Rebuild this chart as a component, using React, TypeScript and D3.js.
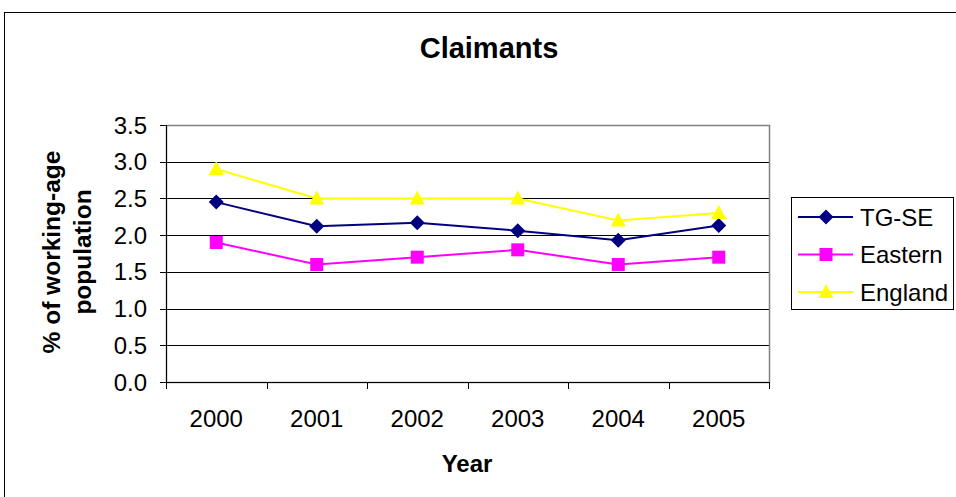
import React from 'react';
import * as d3 from 'd3';

const years = ['2000', '2001', '2002', '2003', '2004', '2005'];
const tgse = [2.45, 2.12, 2.17, 2.06, 1.93, 2.13];
const eastern = [1.9, 1.6, 1.7, 1.8, 1.6, 1.7];
const england = [2.9, 2.5, 2.5, 2.5, 2.2, 2.3];
const yTicks = [0, 0.5, 1, 1.5, 2, 2.5, 3, 3.5];

const series = [
    { name: 'TG-SE', values: tgse, color: '#000080', marker: 'diamond' },
    { name: 'Eastern', values: eastern, color: '#FF00FF', marker: 'square' },
    { name: 'England', values: england, color: '#FFFF00', marker: 'triangle' },
];

const font = 'Arial, "Liberation Sans", sans-serif';

function Marker({ type, x, y, color }: { type: string; x: number; y: number; color: string }) {
    if (type === 'diamond') {
        return <path d={`M${x},${y - 7.5}L${x + 7.5},${y}L${x},${y + 7.5}L${x - 7.5},${y}Z`} fill={color} />;
    }
    if (type === 'square') {
        return <rect x={x - 6.5} y={y - 6.5} width={13} height={13} fill={color} />;
    }
    return <path d={`M${x},${y - 8}L${x + 7.5},${y + 6}L${x - 7.5},${y + 6}Z`} fill={color} />;
}

export default function App() {
    const width = 956;
    const height = 497;
    const plot = { left: 166, right: 769, top: 125, bottom: 382 };

    const x = d3.scaleBand<string>().domain(years).range([plot.left, plot.right]);
    const y = d3.scaleLinear().domain([0, 3.5]).range([plot.bottom, plot.top]);
    const cx = (d: string) => (x(d) ?? 0) + x.bandwidth() / 2;

    const line = d3
        .line<number>()
        .x((_, i) => cx(years[i]))
        .y(v => y(v));

    const tickXs = [...years.map(d => x(d) ?? 0), plot.right];

    return (
        <svg width={width} height={height} style={{ position: 'absolute', left: 0, top: 0, background: '#fff' }}>
            <rect x={4.5} y={12.5} width={960} height={500} fill="#fff" stroke="#000" />
            <text x={489} y={58} textAnchor="middle" fontFamily={font} fontWeight="bold" fontSize={29}>
                Claimants
            </text>

            {yTicks.map(t => (
                <g key={t}>
                    {t > 0 && t < 3.5 && (
                        <line x1={plot.left} x2={plot.right} y1={Math.round(y(t)) + 0.5} y2={Math.round(y(t)) + 0.5} stroke="#000" />
                    )}
                    <line x1={plot.left - 6} x2={plot.left} y1={Math.round(y(t)) + 0.5} y2={Math.round(y(t)) + 0.5} stroke="#000" />
                    <text x={147} y={y(t) + 8.5} textAnchor="end" fontFamily={font} fontSize={24}>
                        {t.toFixed(1)}
                    </text>
                </g>
            ))}

            <rect x={plot.left + 0.5} y={plot.top + 0.5} width={plot.right - plot.left} height={plot.bottom - plot.top} fill="none" stroke="#808080" strokeWidth={1.5} />
            <line x1={plot.left + 0.5} x2={plot.left + 0.5} y1={plot.top} y2={plot.bottom} stroke="#000" />
            <line x1={plot.left} x2={plot.right} y1={plot.bottom + 0.5} y2={plot.bottom + 0.5} stroke="#000" />

            {tickXs.map((tx, i) => (
                <line key={i} x1={Math.round(tx) + 0.5} x2={Math.round(tx) + 0.5} y1={plot.bottom} y2={plot.bottom + 7} stroke="#000" />
            ))}
            {years.map(d => (
                <text key={d} x={cx(d)} y={427} textAnchor="middle" fontFamily={font} fontSize={24}>
                    {d}
                </text>
            ))}

            <text x={467} y={472} textAnchor="middle" fontFamily={font} fontWeight="bold" fontSize={24}>
                Year
            </text>
            <text transform="translate(60,252) rotate(-90)" textAnchor="middle" fontFamily={font} fontWeight="bold" fontSize={24.5}>
                % of working-age
            </text>
            <text transform="translate(91,252) rotate(-90)" textAnchor="middle" fontFamily={font} fontWeight="bold" fontSize={24.5}>
                population
            </text>

            {series.map(s => (
                <g key={s.name}>
                    <path d={line(s.values) ?? ''} fill="none" stroke={s.color} strokeWidth={2} />
                    {s.values.map((v, i) => (
                        <Marker key={i} type={s.marker} x={cx(years[i])} y={y(v)} color={s.color} />
                    ))}
                </g>
            ))}

            <rect x={791.5} y={197.5} width={162} height={112} fill="#fff" stroke="#000" />
            {series.map((s, i) => {
                const ly = 217 + i * 37.5;
                return (
                    <g key={s.name}>
                        <line x1={798} x2={853} y1={ly} y2={ly} stroke={s.color} strokeWidth={2} />
                        <Marker type={s.marker} x={826} y={ly} color={s.color} />
                        <text x={860} y={ly + 8.5} fontFamily={font} fontSize={24}>
                            {s.name}
                        </text>
                    </g>
                );
            })}
        </svg>
    );
}
